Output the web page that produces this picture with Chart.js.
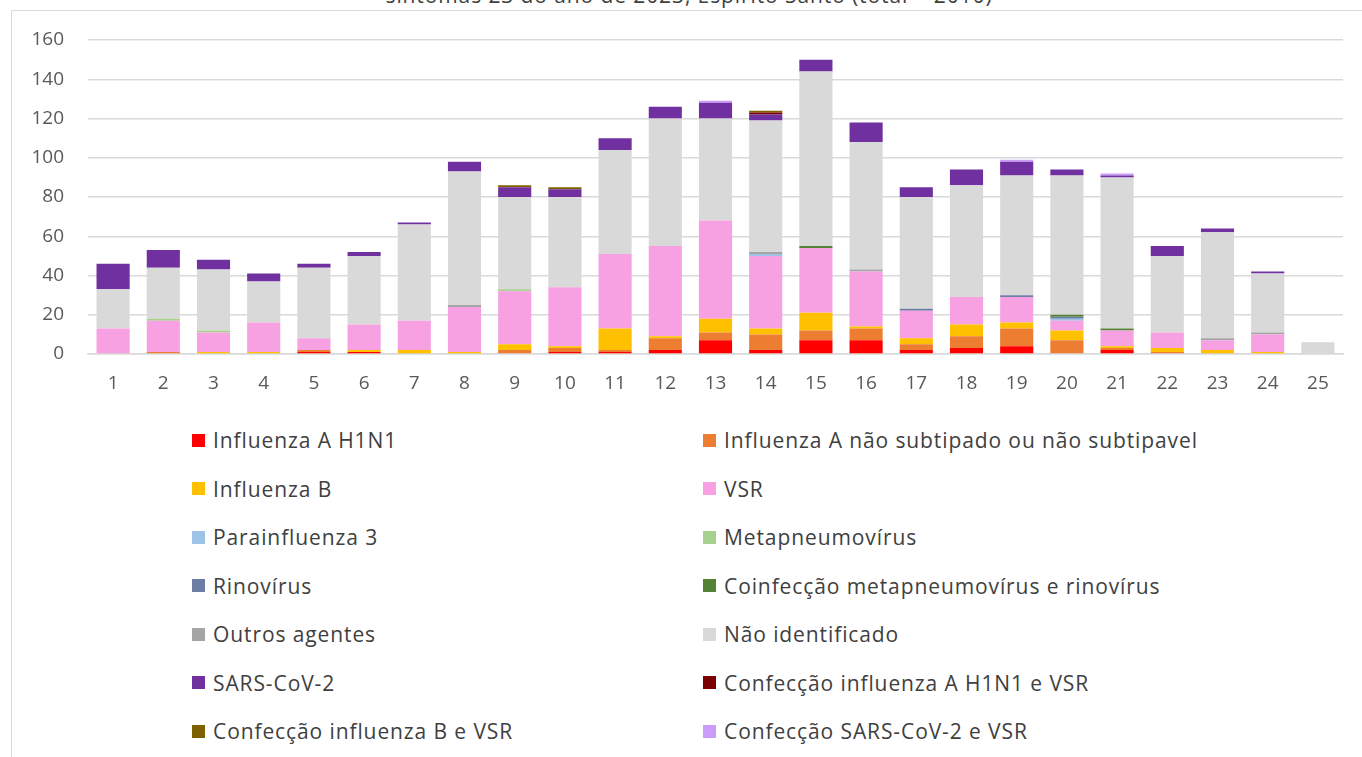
<!DOCTYPE html>
<html lang="pt-BR">

<head>
    <title>Casos por agente etiológico</title>
    <meta charset="utf-8">
    <script src="https://cdn.jsdelivr.net/npm/chart.js"></script>
    <style>
        body {
            margin: 0;
            width: 1362px;
            height: 757px;
            overflow: hidden;
            background: white;
            font-family: "Open Sans", sans-serif;
            position: relative;
        }

        #frame {
            position: absolute;
            left: 11px;
            top: 10px;
            width: 1400px;
            height: 800px;
            border: 1px solid #d9d9d9;
        }

        #title {
            position: absolute;
            left: 0;
            width: 1378px;
            top: -19px;
            text-align: center;
            font-size: 21px;
            letter-spacing: 0.9px;
            color: #404040;
            white-space: nowrap;
        }

        #chartBox {
            position: absolute;
            left: 0;
            top: 0;
            width: 1362px;
            height: 400px;
        }

        .legend-item {
            position: absolute;
            display: flex;
            align-items: center;
            font-size: 21px;
            letter-spacing: 0.9px;
            color: #404040;
            white-space: nowrap;
        }

        .legend-item span.box {
            width: 13px;
            height: 13px;
            margin-right: 8px;
            display: inline-block;
        }
    </style>
</head>

<body>
    <div id="frame"></div>
    <div id="title">sintomas 23 do ano de 2023, Espírito Santo (total = 2010)</div>
    <div id="chartBox"><canvas id="casosChart"></canvas></div>
    <div id="legend"></div>

    <script>
        // semanas epidemiológicas
        const weeks = ['1', '2', '3', '4', '5', '6', '7', '8', '9', '10', '11', '12', '13',
            '14', '15', '16', '17', '18', '19', '20', '21', '22', '23', '24', '25'];

        // casos por agente
        const h1n1 = [0, 0, 0, 0, 1, 1, 0, 0, 0, 1, 1, 2, 7, 2, 7, 7, 2, 3, 4, 0, 2, 0, 0, 0, 0];
        const fluANaoSub = [0, 1, 0, 0, 1, 0, 0, 0, 2, 2, 1, 6, 4, 8, 5, 6, 3, 6, 9, 7, 1, 1, 0, 0, 0];
        const fluB = [0, 0, 1, 1, 0, 1, 2, 1, 3, 1, 11, 1, 7, 3, 9, 1, 3, 6, 3, 5, 1, 2, 2, 1, 0];
        const vsr = [13, 16, 10, 15, 6, 13, 15, 23, 27, 30, 38, 46, 50, 37, 33, 28, 14, 14, 13, 5, 8, 8, 5, 9, 0];
        const parainf3 = [0, 0, 0, 0, 0, 0, 0, 0, 0, 0, 0, 0, 0, 1, 0, 0, 0, 0, 0, 1, 0, 0, 0, 0, 0];
        const metapneumo = [0, 1, 1, 0, 0, 0, 0, 0, 1, 0, 0, 0, 0, 0, 0, 0, 0, 0, 0, 0, 0, 0, 0, 0, 0];
        const rinovirus = [0, 0, 0, 0, 0, 0, 0, 0, 0, 0, 0, 0, 0, 0, 0, 0, 1, 0, 1, 1, 0, 0, 0, 0, 0];
        const coinfMetaRino = [0, 0, 0, 0, 0, 0, 0, 0, 0, 0, 0, 0, 0, 0, 1, 0, 0, 0, 0, 1, 1, 0, 0, 0, 0];
        const outros = [0, 0, 0, 0, 0, 0, 0, 1, 0, 0, 0, 0, 0, 1, 0, 1, 0, 0, 0, 0, 0, 0, 1, 1, 0];
        const naoIdent = [20, 26, 31, 21, 36, 35, 49, 68, 47, 46, 53, 65, 52, 67, 89, 65, 57, 57, 61, 71, 77, 39, 54, 30, 6];
        const sarsCov2 = [13, 9, 5, 4, 2, 2, 1, 5, 5, 4, 6, 6, 8, 3, 6, 10, 5, 8, 7, 3, 1, 5, 2, 1, 0];
        const coH1n1Vsr = [0, 0, 0, 0, 0, 0, 0, 0, 0, 0, 0, 0, 0, 1, 0, 0, 0, 0, 0, 0, 0, 0, 0, 0, 0];
        const coFluBVsr = [0, 0, 0, 0, 0, 0, 0, 0, 1, 1, 0, 0, 0, 1, 0, 0, 0, 0, 0, 0, 0, 0, 0, 0, 0];
        const coSarsVsr = [0, 0, 0, 0, 0, 0, 0, 0, 0, 0, 0, 0, 1, 0, 0, 0, 0, 0, 1, 0, 1, 0, 0, 0, 0];

        const yTicks = [0, 20, 40, 60, 80, 100, 120, 140, 160];

        const series = [
            { label: 'Influenza A H1N1', data: h1n1, color: '#ff0000' },
            { label: 'Influenza A não subtipado ou não subtipavel', data: fluANaoSub, color: '#ed7d31' },
            { label: 'Influenza B', data: fluB, color: '#ffc000' },
            { label: 'VSR', data: vsr, color: '#f7a1e3' },
            { label: 'Parainfluenza 3', data: parainf3, color: '#9dc3e6' },
            { label: 'Metapneumovírus', data: metapneumo, color: '#a9d18e' },
            { label: 'Rinovírus', data: rinovirus, color: '#6c7ea6' },
            { label: 'Coinfecção metapneumovírus e rinovírus', data: coinfMetaRino, color: '#548235' },
            { label: 'Outros agentes', data: outros, color: '#a5a5a5' },
            { label: 'Não identificado', data: naoIdent, color: '#d9d9d9' },
            { label: 'SARS-CoV-2', data: sarsCov2, color: '#7030a0' },
            { label: 'Confecção influenza A H1N1 e VSR', data: coH1n1Vsr, color: '#7b0000' },
            { label: 'Confecção influenza B e VSR', data: coFluBVsr, color: '#7f6000' },
            { label: 'Confecção SARS-CoV-2 e VSR', data: coSarsVsr, color: '#cc9cfa' }
        ];

        const ctx = document.getElementById('casosChart').getContext('2d');
        new Chart(ctx, {
            type: 'bar',
            data: {
                labels: weeks,
                datasets: series.map(s => ({
                    label: s.label,
                    data: s.data,
                    backgroundColor: s.color,
                    borderWidth: 0,
                    categoryPercentage: 1,
                    barPercentage: 0.66
                }))
            },
            options: {
                responsive: true,
                maintainAspectRatio: false,
                animation: false,
                layout: { padding: { top: 40, right: 19, left: 0, bottom: 0 } },
                plugins: {
                    legend: { display: false },
                    tooltip: { enabled: false }
                },
                scales: {
                    x: {
                        stacked: true,
                        grid: { display: false, drawTicks: false },
                        border: { color: '#d9d9d9', width: 1.5 },
                        ticks: {
                            color: '#595959',
                            padding: 18,
                            font: { family: 'Open Sans', size: 19 }
                        },
                        afterFit: scale => { scale.height = 46; }
                    },
                    y: {
                        stacked: true,
                        min: 0,
                        max: 160,
                        afterBuildTicks: scale => { scale.ticks = yTicks.map(v => ({ value: v })); },
                        grid: { color: '#d9d9d9', lineWidth: 1.5, drawTicks: false },
                        border: { display: false },
                        ticks: {
                            color: '#595959',
                            padding: 24,
                            font: { family: 'Open Sans', size: 19 }
                        },
                        afterFit: scale => { scale.width = 88; }
                    }
                }
            }
        });

        // legenda em duas colunas
        const legend = document.getElementById('legend');
        const colX = [192, 703];
        series.forEach((s, i) => {
            const item = document.createElement('div');
            item.className = 'legend-item';
            item.style.left = colX[i % 2] + 'px';
            item.style.top = (440 + Math.floor(i / 2) * 48.5 - 14) + 'px';
            item.style.height = '28px';
            item.innerHTML = '<span class="box" style="background:' + s.color + '"></span>' + s.label;
            legend.appendChild(item);
        });
    </script>
</body>

</html>
